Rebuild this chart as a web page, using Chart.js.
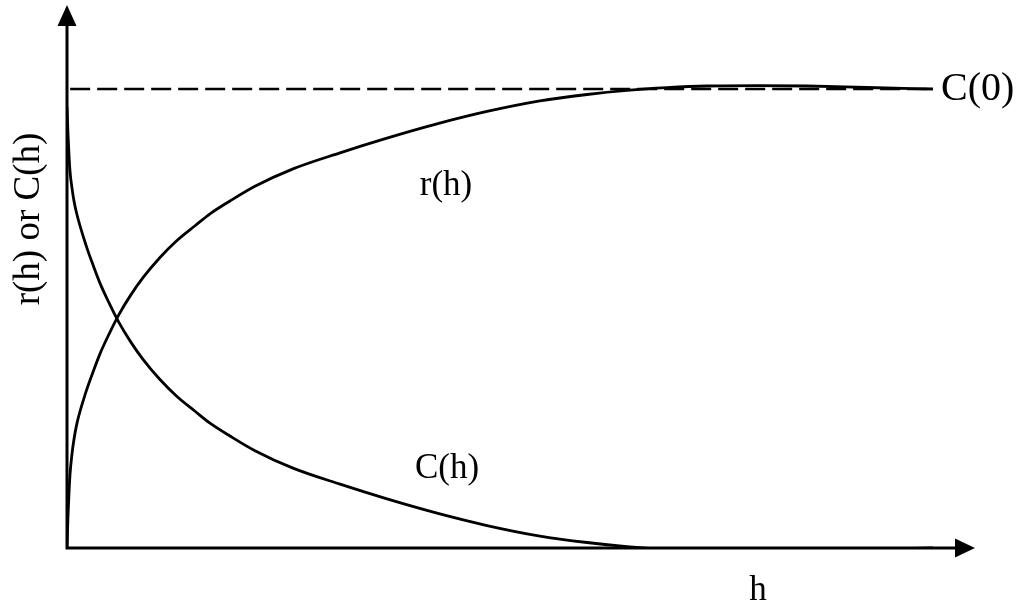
<!DOCTYPE html>
<html>
<head>
<meta charset="utf-8">
<script src="https://cdn.jsdelivr.net/npm/chart.js@4"></script>
<style>
  html, body { margin: 0; padding: 0; background: #fff; }
  #wrap { width: 1024px; height: 612px; }
</style>
</head>
<body>
<div id="wrap"><canvas id="chart" width="1024" height="612"></canvas></div>
<script>
// ── Data (C(0) = 1) ───────────────────────────────────────
const hValues = [0, 0.11, 0.22, 0.33, 0.55, 0.77, 1.10, 2.09, 2.86, 3.63, 4.63, 5.73, 7.05, 8.37, 10.24, 12.11, 14.10, 15.75, 17.95, 20.70, 24.89, 30.07, 35.24, 40.75, 46.26, 52.09, 57.27, 61.67, 66.08, 70.48, 75.99, 81.50, 88.11, 95.37];
const cValues = [0.961, 0.902, 0.856, 0.821, 0.784, 0.756, 0.726, 0.660, 0.617, 0.577, 0.534, 0.491, 0.448, 0.411, 0.367, 0.330, 0.298, 0.272, 0.244, 0.212, 0.174, 0.139, 0.107, 0.076, 0.049, 0.026, 0.012, 0.003, -0.003, -0.0065, -0.0072, -0.0065, -0.0033, 0];
const rValues = [0, 0.070, 0.120, 0.160, 0.205, 0.237, 0.272, 0.340, 0.383, 0.423, 0.466, 0.509, 0.552, 0.589, 0.633, 0.670, 0.702, 0.728, 0.756, 0.788, 0.826, 0.861, 0.893, 0.924, 0.951, 0.974, 0.988, 0.997, 1.003, 1.0065, 1.0072, 1.0065, 1.0033, 1.0];

const hSill = [0.35, 95];
const sillValues = [1, 1];

const X_MAX = 100;
const Y_MAX = 1.183;

const toPts = (xs, ys) => xs.map((x, i) => ({ x: x, y: ys[i] }));

// ── Axes with arrows + labels ─────────────────────────────
const axesPlugin = {
  id: 'axesArrows',
  afterDatasetsDraw(chart) {
    const ctx = chart.ctx;
    const xs = chart.scales.x, ys = chart.scales.y;
    const x0 = xs.getPixelForValue(0), y0 = ys.getPixelForValue(0);
    const xEnd = xs.getPixelForValue(X_MAX), yEnd = ys.getPixelForValue(Y_MAX);
    ctx.save();
    ctx.strokeStyle = '#000';
    ctx.fillStyle = '#000';
    ctx.lineWidth = 3;
    ctx.beginPath();
    ctx.moveTo(x0, yEnd + 12);
    ctx.lineTo(x0, y0);
    ctx.lineTo(xEnd - 12, y0);
    ctx.stroke();
    // arrow heads
    ctx.beginPath();
    ctx.moveTo(x0, yEnd);
    ctx.lineTo(x0 - 9.5, yEnd + 21);
    ctx.lineTo(x0 + 9.5, yEnd + 21);
    ctx.closePath();
    ctx.fill();
    ctx.beginPath();
    ctx.moveTo(xEnd, y0);
    ctx.lineTo(xEnd - 20, y0 - 9.5);
    ctx.lineTo(xEnd - 20, y0 + 9.5);
    ctx.closePath();
    ctx.fill();

    // texts
    const serif = '"Liberation Serif", "Times New Roman", serif';
    ctx.font = '35px ' + serif;
    ctx.textAlign = 'center';
    ctx.textBaseline = 'middle';
    ctx.fillText('r(h)', 446, 186);
    ctx.fillText('C(h)', 447, 469);
    ctx.fillText('h', 758, 591);
    ctx.font = '40px ' + serif;
    ctx.textAlign = 'left';
    ctx.fillText('C(0)', 941, 89);

    ctx.font = '37px ' + serif;
    ctx.translate(29, 219);
    ctx.rotate(-Math.PI / 2);
    ctx.textAlign = 'center';
    ctx.fillText('r(h) or C(h)', 0, 0);
    ctx.restore();
  }
};

const lineStyle = {
  borderColor: '#000',
  borderWidth: 2.8,
  pointRadius: 0,
  fill: false,
  cubicInterpolationMode: 'monotone'
};

new Chart(document.getElementById('chart'), {
  type: 'line',
  data: {
    datasets: [
      Object.assign({}, lineStyle, { label: 'C(0)', data: toPts(hSill, sillValues), borderDash: [20, 7], borderWidth: 2.5 }),
      Object.assign({}, lineStyle, { label: 'r(h)', data: toPts(hValues, rValues) }),
      Object.assign({}, lineStyle, { label: 'C(h)', data: toPts(hValues, cValues) })
    ]
  },
  options: {
    responsive: false,
    animation: false,
    layout: { padding: { left: 67, right: 49, top: 5, bottom: 64 } },
    scales: {
      x: { type: 'linear', min: 0, max: X_MAX, display: false },
      y: { type: 'linear', min: 0, max: Y_MAX, display: false }
    },
    plugins: {
      legend: { display: false },
      tooltip: { enabled: false }
    }
  },
  plugins: [axesPlugin]
});
</script>
</body>
</html>
